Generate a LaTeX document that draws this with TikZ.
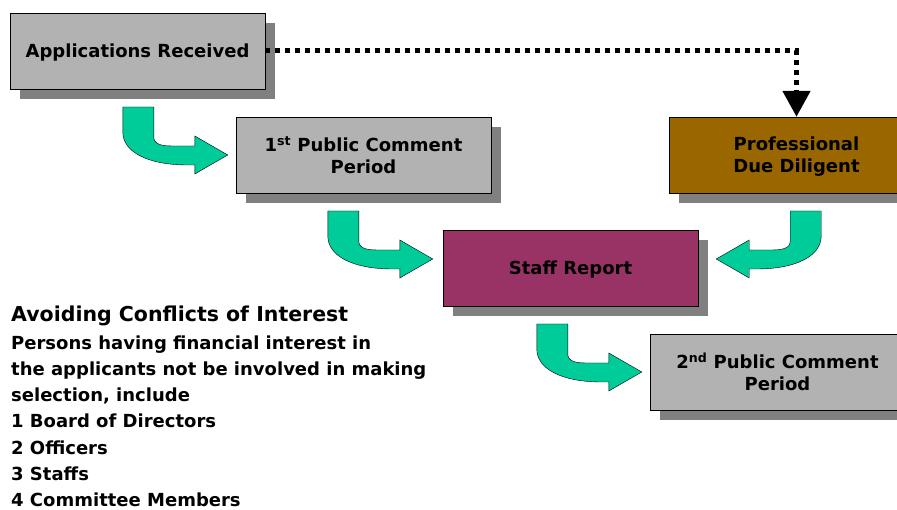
\documentclass[tikz,border=0pt]{standalone}
\usepackage{fontspec}
\setmainfont{DejaVu Sans}
\usetikzlibrary{arrows.meta,shadows,positioning}
\definecolor{boxgray}{HTML}{B2B2B2}
\definecolor{shadowgray}{HTML}{808080}
\definecolor{duebrown}{HTML}{996600}
\definecolor{reportmaroon}{HTML}{993366}
\definecolor{bentgreen}{HTML}{00CC99}

% green bent arrow, tip at #1, #2 = 1 (points right) or -1 (points left)
\newcommand\bentarrow[2]{%
\begin{scope}[shift={(#1)}, xscale=#2]
\draw[bent] (-105,-48) -- (-74,-48) -- (-74,-18)
	.. controls (-74,-11) and (-67,-9) .. (-55,-9) -- (-33,-9) -- (-33,-19)
	-- (0,0) -- (-33,19) -- (-33,10) -- (-40,10)
	.. controls (-80,10) and (-105,-3) .. (-105,-23) -- cycle;
\end{scope}}

\begin{document}
\begin{tikzpicture}[x=1pt, y=-1pt,
	stage/.style={draw, thin, fill=boxgray, minimum width=255pt, minimum height=76pt,
		align=center, text depth=0pt, font=\bfseries\fontsize{18}{22}\selectfont,
		drop shadow={shadow xshift=10pt, shadow yshift=-10pt, fill=shadowgray, opacity=1}},
	bent/.style={draw=black, thin, fill=bentgreen}]

\clip (0,0) rectangle (897,510);

\node[stage] (apps) at (137.5,51) {Applications Received};
\node[stage] (pub1) at (363.5,155) {1\textsuperscript{st} Public Comment\\Period};
\node[stage, fill=duebrown] (due) at (796.5,155) {Professional\\Due Diligent};
\node[stage, fill=reportmaroon] (report) at (570.5,268) {Staff Report};
\node[stage] (pub2) at (777.5,372) {2\textsuperscript{nd} Public Comment\\Period};

\draw[line width=5pt, dash pattern=on 5pt off 5pt, -{Triangle[width=27pt,length=26pt]}]
	(apps.east) -| (due.north);

\coordinate (t1) at ([xshift=-8pt]pub1.west);
\coordinate (t2) at ([xshift=-10pt, yshift=9pt]report.west);
\coordinate (t3) at ([xshift=18pt, yshift=9pt]report.east);
\coordinate (t4) at ([xshift=-8pt]pub2.west);
\bentarrow{t1}{1}
\bentarrow{t2}{1}
\bentarrow{t3}{-1}
\bentarrow{t4}{1}

\node[anchor=base west, inner sep=0, font=\bfseries\fontsize{20.5}{24}\selectfont]
	(conflicts) at (11,322) {Avoiding Conflicts of Interest};
\node[anchor=north west, inner sep=0, align=left, font=\bfseries\fontsize{18}{26.2}\selectfont]
	(members) at (11,335.5) {Persons having financial interest in\\
	the applicants not be involved in making\\
	selection, include\\
	1 Board of Directors\\
	2 Officers\\
	3 Staffs\\
	4 Committee Members};

\end{tikzpicture}
\end{document}
